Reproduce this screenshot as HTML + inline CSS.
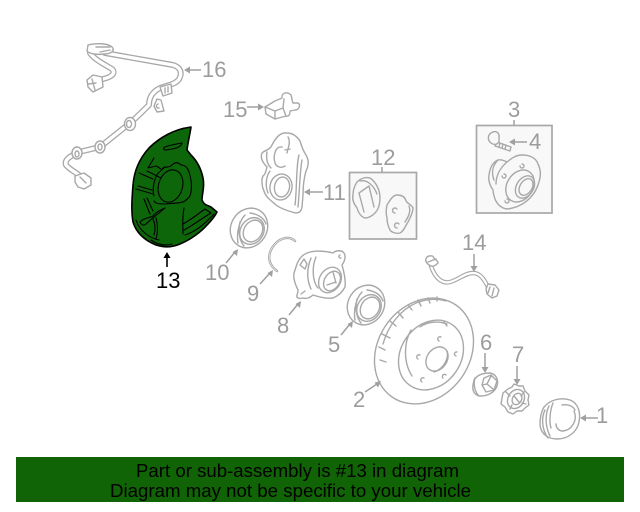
<!DOCTYPE html>
<html><head><meta charset="utf-8"><style>
html,body{margin:0;padding:0;background:#fff;width:640px;height:512px;overflow:hidden}
svg{display:block;filter:blur(.35px)}
text{font-family:"Liberation Sans",sans-serif}
.g{fill:none;stroke:#a8a8a8;stroke-width:1.4;stroke-linejoin:round;stroke-linecap:round}
.w{fill:#fff;stroke:#a8a8a8;stroke-width:1.4;stroke-linejoin:round;stroke-linecap:round}
.l{font-size:22px;fill:#9c9c9c}
.a{stroke:#a0a0a0;stroke-width:1.5;fill:none}
.h{fill:#a0a0a0}
.k{fill:none;stroke:#000;stroke-width:1.1;stroke-linecap:round;stroke-linejoin:round}
</style></head><body>
<svg width="640" height="512" viewBox="0 0 640 512" xmlns="http://www.w3.org/2000/svg">
<rect width="640" height="512" fill="#fff"/>

<!-- harness 16 -->
<g fill="none" stroke-linecap="round" stroke-linejoin="round">
<path stroke="#a8a8a8" stroke-width="6" d="M90 53C95 60 104 64 112 69C116 73 112 77 103 79"/>
<path stroke="#fff" stroke-width="3.400" d="M90 53C95 60 104 64 112 69C116 73 112 77 103 79"/>
<path stroke="#a8a8a8" stroke-width="6" d="M105 53L173 65C180 67 182 72 180 77C178 84 168 85 160 88C152 92 149 98 149 105C142 112 136 118 130 123L100 147L79 152C70 156 64 160 66 165C70 170 76 172 80 176"/>
<path stroke="#fff" stroke-width="3.400" d="M105 53L173 65C180 67 182 72 180 77C178 84 168 85 160 88C152 92 149 98 149 105C142 112 136 118 130 123L100 147L79 152C70 156 64 160 66 165C70 170 76 172 80 176"/>
</g>
<path class="w" d="M88 45C95 43 108 43 112 47C115 50 112 54 104 54C97 55 90 54 87 51Z"/>
<path class="g" d="M96 47L110 47M100 52L110 50"/>
<path class="w" d="M87 80L93 75L102 77L103 87L93 92L88 87Z"/>
<path class="g" d="M92 79L95 90M88 84L96 83"/>
<path class="w" d="M160 87L171 84L172 93L163 96Z"/>
<path class="g" d="M165 88V93M168 87V92"/>
<path class="w" d="M157 99L161 100L164 111L157 112L154 106Z"/>
<path class="g" d="M158 104A2 2 0 1 0 159 108"/>
<g class="w"><ellipse cx="130" cy="124" rx="5.500" ry="6.500"/><ellipse cx="100" cy="147" rx="5" ry="6"/><ellipse cx="77" cy="153" rx="5" ry="6"/></g>
<g class="g"><ellipse cx="129" cy="124" rx="2.500" ry="3.500"/><ellipse cx="100" cy="147" rx="2" ry="3"/><ellipse cx="77" cy="154" rx="2" ry="3"/></g>
<path class="w" d="M75 176L84 173L91 178L91 185L84 189L78 187L75 182Z"/>
<path class="g" d="M80 177L86 183"/>

<!-- shield 13 -->
<path fill="#0d660a" stroke="#000" stroke-width="1.600" stroke-linejoin="round" d="M191 127C175 129 160 137 149 148C139 159 134 172 133 185C132 198 131 210 133 222C136 232 144 240 156 245C165 248 173 247 180 244C190 240 201 232 207 225C212 220 215 216 217 212L211 207C207 205 204 205 202 200C202 194 205 186 203 178C201 168 196 160 191 155L187 150C188 142 190 134 191 127Z"/>
<g class="k">
<path d="M165 147C170 145 176 144 182 143C181 147 177 148 172 149L166 150C163 150 163 148 165 147Z"/>
<ellipse cx="170.500" cy="186" rx="12" ry="16.500" transform="rotate(17 170.500 186)"/>
<path d="M154 196C152 190 154 180 157 175C158 172 162 171 163 168C167 166 170 168 172 165C175 162 178 162 181 165C186 165 188 169 189 172C191 178 192 186 191 192C190 198 188 198 185 201C180 204 172 203 165 204C160 204 156 204 154 201"/>
<path d="M154 158L148 168L156 166C161 168 162 172 164 167M147 171L161 178"/>
<path d="M139 173L153 179"/>
<path d="M136 189L153 194M138 186L152 190"/>
<path d="M144 199L150 214M147 198L153 211"/>
<path d="M140 222C145 217 150 218 153 216C156 212 160 210 165 208C158 214 150 220 146 224C144 226 141 225 140 222Z"/>
<path d="M156 218C158 225 158 232 156 239M153 219C156 226 155 232 154 235"/>
<path d="M136 220C140 232 150 238 159 240"/>
<path d="M151 240C158 245 165 246 172 244"/>
<path d="M184 208C182 218 183 228 183 234"/>
<path d="M183 224C192 219 198 214 205 209L211 213C204 217 195 224 184 230"/>
<path d="M185 235C195 232 204 225 214 214"/>
</g>

<!-- sensor 15 -->
<path class="w" d="M275 101L282 98C281 93 287 91 291 95C292 98 292 101 293 103L298 103C301 105 299 110 295 110L290 111C290 114 289 117 286 116L275 119L266 114L265 107Z"/>
<path class="g" d="M265 107L275 111L283 108L284 99M275 111V119M283 108L286 116"/>

<!-- caliper 11 -->
<path class="w" d="M262 153C265 150 270 150 272 145C276 137 281 132 287 133C292 133 296 135 300 141C302 148 304 152 306 155C309 160 309 165 306 171C304 178 303 186 303 195L302 207C301 213 297 214 292 212C285 210 280 208 276 205C272 201 266 198 264 191C262 187 261 180 263 176C266 174 266 170 267 167C263 163 260 158 262 153Z"/>
<g class="g">
<path d="M282 147C275 146 273 156 275 163C277 168 282 168 285 166"/>
<path d="M288 137C291 142 288 148 287 153M290 149L285 150"/>
<ellipse cx="281" cy="187" rx="11" ry="13" transform="rotate(10 281 187)"/>
<ellipse cx="282" cy="187" rx="7.500" ry="10" transform="rotate(10 282 187)"/>
<path d="M267 152C266 158 267 164 271 168M270 171C266 176 265 186 268 193"/>
<path d="M299 155C296 165 297 190 295 205M302 160C300 170 300 185 298 207"/>
</g>

<!-- box 12 -->
<rect x="349.500" y="172.500" width="67" height="66.500" fill="#f8f8f8" stroke="#a8a8a8" stroke-width="1.700"/>
<path class="a" d="M382 167V172"/>
<path class="w" style="fill:#f8f8f8" d="M357 182C361 178 366 177 370 178C376 182 380 190 380 198C380 205 378 210 375 213C372 216 368 218 365 218C361 217 358 212 357 208C354 204 352 199 353 195C353 190 355 185 357 182Z"/>
<path class="g" d="M360 181C367 179 374 186 377 194M359 193L369 186M359 193L364 212M369 186L374 207"/>
<path class="w" style="fill:#f8f8f8" d="M387 205C390 200 393 195 397 195C402 195 405 197 406 201C408 204 412 205 413 208C413 213 410 218 408 222C405 227 403 232 400 233C396 234 391 232 390 230C388 226 387 222 387 218C386 214 386 209 387 205Z"/>
<g class="g"><path d="M397 209A2.500 2.500 0 1 0 395 213M399 224A2.500 2.500 0 1 0 397 228"/><path d="M409 206C411 211 409 216 405 222"/></g>

<!-- box 3 -->
<rect x="476.500" y="125.500" width="75.500" height="87.500" fill="#f8f8f8" stroke="#a8a8a8" stroke-width="1.700"/>
<path class="a" d="M514 120V125"/>
<g class="w" style="fill:#f8f8f8">
<path d="M497 142L511 147L510 151L495 146Z"/>
<path d="M491 133C495 130 500 132 499 138C500 144 495 146 491 143C487 140 488 135 491 133Z"/>
</g>
<path class="g" d="M500 143L499 147M503 144L502 148M506 145L505 149"/>
<path class="w" style="fill:#f8f8f8" d="M489 175C490 168 493 162 498 160C502 159 505 161 507 162C512 158 516 155 522 155C530 155 536 158 538 164C541 170 541 176 539 182C537 189 534 194 530 198C524 204 516 208 507 209C501 208 497 204 495 199C494 196 493 193 493 190C490 186 488 180 489 175Z"/>
<g class="g">
<path d="M498 160C493 165 491 172 494 180M507 162C500 168 496 176 496 184"/>
<ellipse cx="520" cy="186" rx="13" ry="17" transform="rotate(32 520 186)"/>
<ellipse cx="525" cy="187" rx="8.500" ry="12" transform="rotate(32 525 187)"/>
<ellipse cx="526" cy="187" rx="6" ry="9" transform="rotate(32 526 187)"/>
<path d="M520 166A2 2 0 1 0 522 164M502 176A2 2 0 1 0 504 174M505 201A2 2 0 1 0 507 199"/>
</g>

<!-- seal 10 -->
<ellipse class="w" cx="249" cy="228" rx="18" ry="20.500" transform="rotate(32 249 228)"/>
<g class="g">
<ellipse cx="252" cy="231" rx="11.500" ry="14" transform="rotate(32 252 231)"/>
<ellipse cx="253" cy="231" rx="9" ry="11.500" transform="rotate(32 253 231)"/>
<path d="M240 222C238 230 239 240 244 246M245 215C240 220 236 232 238 243M250 213C258 214 264 218 266 224"/>
</g>
<!-- ring 9 -->
<path d="M295 241C289 235 278 238 272 248C267 257 269 265 277 271" fill="none" stroke="#a8a8a8" stroke-width="2.400" stroke-linecap="round"/>
<path d="M295 241C289 235 278 238 272 248C267 257 269 265 277 271" fill="none" stroke="#fff" stroke-width=".6" stroke-linecap="round"/>

<!-- bearing 8 -->
<path class="w" d="M296 267C298 260 302 255 307 253C315 250 326 251 333 253C336 250 342 250 344 253C346 256 345 261 342 265C344 272 346 280 345 287C342 293 338 296 333 298C326 299 319 297 313 295C310 298 306 299 303 298C299 299 296 298 297 295C298 293 298 292 298 290C295 284 293 278 294 273Z"/>
<g class="g">
<ellipse cx="330" cy="280" rx="10.500" ry="13.500" transform="rotate(32 330 280)"/>
<ellipse cx="332" cy="281" rx="7.500" ry="10.500" transform="rotate(32 332 281)"/>
<path d="M333 272L336 283M327 285L336 282M307 264L304 259L300 265L305 269ZM340 255A1.500 1.500 0 1 0 341 258M301 294L305 291M311 258C307 268 306 278 311 289M316 257C312 266 312 281 318 288"/>
</g>

<!-- seal 5 -->
<ellipse class="w" cx="366" cy="305" rx="18" ry="20.500" transform="rotate(32 366 305)"/>
<g class="g">
<ellipse cx="369" cy="308" rx="11.500" ry="14" transform="rotate(32 369 308)"/>
<ellipse cx="370" cy="308" rx="9" ry="11.500" transform="rotate(32 370 308)"/>
<path d="M357 299C355 307 356 317 361 323M362 292C357 297 353 309 355 320M367 290C375 291 381 295 383 301"/>
</g>

<!-- hose 14 -->
<g fill="none" stroke-linecap="round" stroke-linejoin="round">
<path stroke="#a8a8a8" stroke-width="4.500" d="M431 266C435 278 442 284 450 282C458 280 465 273 473 273C480 273 484 279 488 287"/>
<path stroke="#fff" stroke-width="2.200" d="M431 266C435 278 442 284 450 282C458 280 465 273 473 273C480 273 484 279 488 287"/>
</g>
<path class="w" d="M426 259C427 255 433 255 434 258C436 260 438 261 438 263C436 265 433 267 431 266C427 264 425 262 426 259Z"/>
<path class="g" d="M428 262L436 259"/>
<path class="w" d="M488 284L495 285L499 290L497 296L492 298L487 294L486 289Z"/>
<path class="g" d="M490 287L488 293M494 288L492 296"/>

<!-- disc 2 -->
<ellipse class="w" cx="424" cy="351" rx="46" ry="56" transform="rotate(35 424 351)"/>
<g class="g">
<path d="M383 344C388 326 400 310 416 303C426 299 437 298 446 301"/>
<path d="M380 360L386 362M379 347L385 350M382 334L390 338M390 321L396 326M398 312L403 318M408 305L412 310M418 300L421 306M428 298L430 303M437 297L437 301"/>
<ellipse cx="431" cy="355" rx="30" ry="37" transform="rotate(35 431 355)"/>
<path d="M411 330C404 342 403 362 412 376"/>
<path d="M447 324C440 321 428 321 420 327M444 322L447 326"/>
<ellipse cx="437" cy="359" rx="10" ry="13" transform="rotate(35 437 359)"/>
<path d="M447 351C449 358 444 369 434 372"/>
<path d="M441 337A1.700 1.700 0 1 0 439 341M457 352A1.700 1.700 0 1 0 456 356M446 375A1.700 1.700 0 1 0 443 378M424 378A1.700 1.700 0 1 0 422 382M420 355A1.700 1.700 0 1 0 418 359"/>
</g>

<!-- nut 6 -->
<path class="w" d="M474 380C477 375 482 373 490 373C496 374 499 380 497 386C495 392 488 396 481 396C475 396 472 391 473 385Z"/>
<path class="g" d="M484 378L491 375L497 381L494 390L486 392L482 385ZM482 385L487 384L491 376M487 384L493 389M475 378C473 385 475 392 479 396"/>

<!-- nut 7 -->
<path class="w" d="M508 389L512 387L514 384L519 386L523 386L525 391L529 395L528 400L529 405L525 408L522 411L517 411L513 414L508 412L505 407L501 404L502 398L503 393Z"/>
<g class="g">
<ellipse cx="516" cy="399" rx="8" ry="10" transform="rotate(30 516 399)"/>
<ellipse cx="517" cy="399" rx="4.500" ry="6" transform="rotate(30 517 399)"/>
<path d="M514 396L519 402M506 392L510 396M524 392L521 396M526 404L522 403M510 409L512 405"/>
</g>

<!-- cap 1 -->
<path class="w" d="M544 407C550 400 560 397 570 400C578 403 581 412 579 422C577 432 568 439 557 439C548 439 541 434 540 425C540 418 541 412 544 407Z"/>
<g class="g">
<path d="M545 410C541 418 542 430 548 438M549 406C545 414 545 426 550 436M553 403C550 410 549 422 551 428"/>
<path d="M574 411C578 420 572 430 563 431C558 431 556 427 556 424M562 405C568 404 573 406 575 410"/>
</g>

<!-- arrows -->
<path class="a" d="M201 70H188M247 107H260M323 192H308M226 263L235 252M260 284L270 273M289 315L298 304M341 335L350 324M365 392L377 384M485 353V369M517 366V381M598 418H584M474 254V268M527 142H513"/>
<g class="h">
<path d="M184 70L190 66.500V73.500Z"/><path d="M264 107L258 103.500V110.500Z"/><path d="M304 192L310 188.500V195.500Z"/>
<path d="M238 249L232.500 252L237 256Z"/><path d="M273 270L267.500 273L272 277Z"/><path d="M301 301L295.500 304L300 308Z"/><path d="M353 321L347.500 324L352 328Z"/>
<path d="M381 381L374.500 382.500L378 387.500Z"/><path d="M485 373L481.500 367H488.500Z"/><path d="M517 385L513.500 379H520.500Z"/><path d="M580 418L586 414.500V421.500Z"/><path d="M474 272L470.500 266H477.500Z"/><path d="M509 142L515 138.500V145.500Z"/>
</g>
<path d="M167 267V256" stroke="#000" stroke-width="1.600" fill="none"/>
<path d="M167 252L163.500 258H170.500Z" fill="#000"/>

<!-- labels -->
<g class="l">
<text x="202" y="77">16</text><text x="223" y="117">15</text><text x="508" y="117">3</text><text x="529" y="149">4</text>
<text x="371" y="165">12</text><text x="323" y="200">11</text><text x="462" y="250">14</text><text x="205" y="280">10</text>
<text x="247" y="301">9</text><text x="277" y="333">8</text><text x="328" y="352">5</text><text x="353" y="407">2</text>
<text x="480" y="350">6</text><text x="512" y="362">7</text><text x="596" y="423">1</text>
</g>
<text x="156" y="288" font-size="22" fill="#000">13</text>

<!-- banner -->
<rect x="16" y="457" width="608" height="45" fill="#116405"/>
<text x="136" y="477" font-size="18" fill="#000" textLength="323" lengthAdjust="spacingAndGlyphs">Part or sub-assembly is #13 in diagram</text>
<text x="110" y="497" font-size="18" fill="#000" textLength="361" lengthAdjust="spacingAndGlyphs">Diagram may not be specific to your vehicle</text>
</svg>
</body></html>
